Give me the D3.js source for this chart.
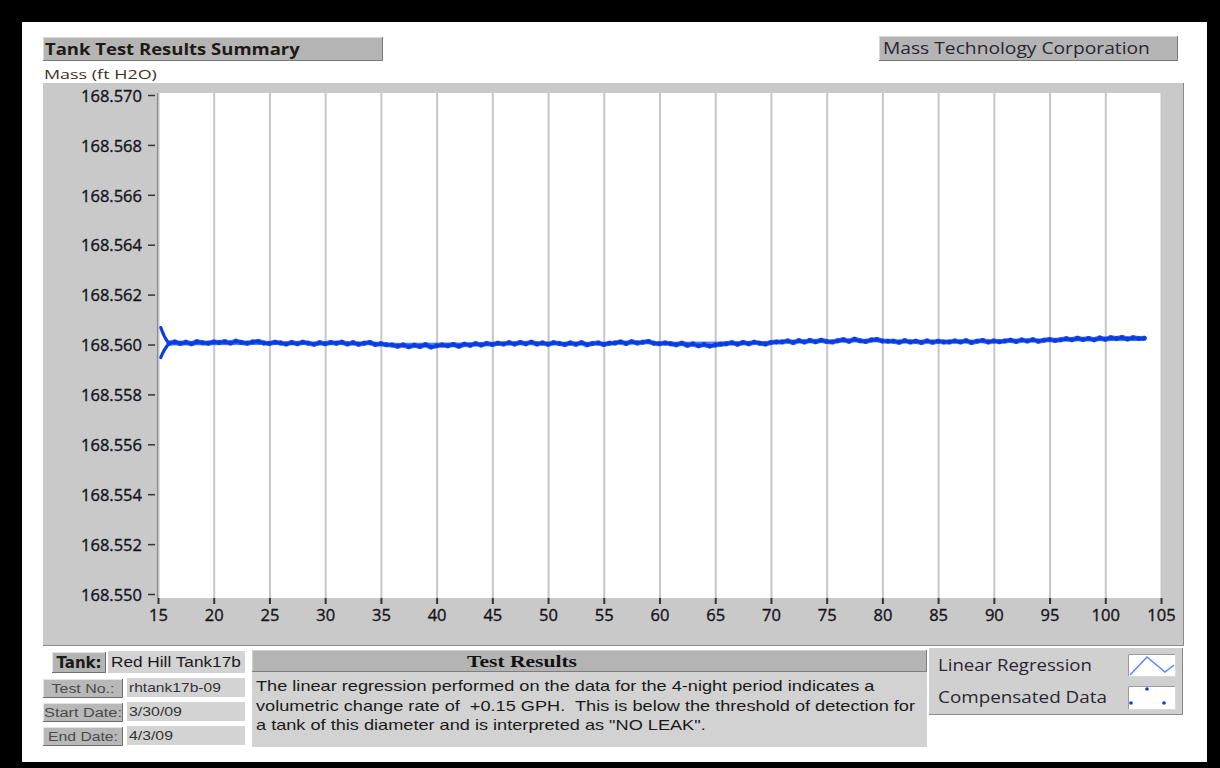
<!DOCTYPE html>
<html><head><meta charset="utf-8">
<script src="https://cdn.jsdelivr.net/npm/d3@7"></script>
<style>
html,body{margin:0;padding:0;background:#000;}
svg{display:block;}
text{white-space:pre;}
</style></head><body>
<svg id="c" width="1220" height="768"></svg>
<script>
// ---------- data ----------
const xTicks = [15,20,25,30,35,40,45,50,55,60,65,70,75,80,85,90,95,100,105];
const yTicks = [168.550,168.552,168.554,168.556,168.558,168.560,168.562,168.564,168.566,168.568,168.570];

const sampleHours = [
16,16.5,17,17.5,18,18.5,19,19.5,20,20.5,
21,21.5,22,22.5,23,23.5,24,24.5,25,25.5,
26,26.5,27,27.5,28,28.5,29,29.5,30,30.5,
31,31.5,32,32.5,33,33.5,34,34.5,35,35.5,
36,36.5,37,37.5,38,38.5,39,39.5,40,40.5,
41,41.5,42,42.5,43,43.5,44,44.5,45,45.5,
46,46.5,47,47.5,48,48.5,49,49.5,50,50.5,
51,51.5,52,52.5,53,53.5,54,54.5,55,55.5,
56,56.5,57,57.5,58,58.5,59,59.5,60,60.5,
61,61.5,62,62.5,63,63.5,64,64.5,65,65.5,
66,66.5,67,67.5,68,68.5,69,69.5,70,70.5,
71,71.5,72,72.5,73,73.5,74,74.5,75,75.5,
76,76.5,77,77.5,78,78.5,79,79.5,80,80.5,
81,81.5,82,82.5,83,83.5,84,84.5,85,85.5,
86,86.5,87,87.5,88,88.5,89,89.5,90,90.5,
91,91.5,92,92.5,93,93.5,94,94.5,95,95.5,
96,96.5,97,97.5,98,98.5,99,99.5,100,100.5,
101,101.5,102,102.5,103,103.5];

const massValues = [
168.56005,168.56010,168.56004,168.56009,168.56003,168.56011,168.56007,168.56005,168.56010,168.56008,
168.56011,168.56006,168.56013,168.56008,168.56005,168.56010,168.56012,168.56006,168.56004,168.56009,
168.56006,168.56002,168.56008,168.56003,168.56009,168.56005,168.56001,168.56007,168.56003,168.56008,
168.56005,168.56009,168.56002,168.56007,168.56001,168.56005,168.56008,168.56000,168.56003,168.55999,
168.55998,168.55993,168.55998,168.55991,168.55997,168.55992,168.55999,168.55990,168.55995,168.55998,
168.55995,168.56000,168.55993,168.56001,168.55997,168.56003,168.55998,168.56004,168.56000,168.56005,
168.56002,168.56007,168.56002,168.56008,168.56003,168.56009,168.56002,168.56006,168.56001,168.56007,
168.56004,168.56000,168.56006,168.56001,168.56007,168.55999,168.56004,168.56006,168.56000,168.56005,
168.56006,168.56010,168.56004,168.56011,168.56006,168.56009,168.56012,168.56005,168.56003,168.56006,
168.56003,168.55999,168.56005,168.55997,168.56002,168.55995,168.56000,168.55994,168.55998,168.56001,
168.56003,168.56007,168.56001,168.56008,168.56003,168.56009,168.56005,168.56002,168.56008,168.56010,
168.56010,168.56014,168.56008,168.56015,168.56010,168.56016,168.56011,168.56017,168.56012,168.56010,
168.56015,168.56019,168.56013,168.56021,168.56015,168.56012,168.56018,168.56020,168.56014,168.56013,
168.56013,168.56009,168.56015,168.56010,168.56013,168.56008,168.56014,168.56009,168.56013,168.56010,
168.56010,168.56014,168.56010,168.56015,168.56008,168.56013,168.56016,168.56010,168.56014,168.56011,
168.56014,168.56017,168.56012,168.56018,168.56014,168.56019,168.56013,168.56017,168.56020,168.56016,
168.56019,168.56023,168.56019,168.56025,168.56020,168.56024,168.56019,168.56026,168.56021,168.56027,
168.56024,168.56028,168.56022,168.56027,168.56024,168.56025];

// start-up transient (two converging branches)
const startupHours = [15.25,15.4,15.55,15.7,15.85,16.0];
const startupUpper = [168.56068,168.56050,168.56034,168.56022,168.56012,168.56005];
const startupLower = [168.55948,168.55963,168.55976,168.55987,168.55996,168.56005];

const titleText = "Tank Test Results Summary";
const companyText = "Mass Technology Corporation";
const yAxisTitle = "Mass (ft H2O)";
const tankLabel = "Tank:";
const tankName = "Red Hill Tank17b";
const infoLabels = ["Test No.:","Start Date:","End Date:"];
const infoValues = ["rhtank17b-09","3/30/09","4/3/09"];
const resultsTitle = "Test Results";
const resultLines = [
 "The linear regression performed on the data for the 4-night period indicates a",
 "volumetric change rate of  +0.15 GPH.  This is below the threshold of detection for",
 "a tank of this diameter and is interpreted as \"NO LEAK\"."
];
const legendLabels = ["Linear Regression","Compensated Data"];

// ---------- drawing ----------
const svg = d3.select("#c");
const SANS = "'Open Sans', 'Noto Sans', sans-serif";
const ARIAL = "'Liberation Sans', Arial, sans-serif";
const DOT = "#0a3de0";

svg.append("rect").attr("width",1220).attr("height",768).attr("fill","#000");
svg.append("rect").attr("x",22).attr("y",22).attr("width",1185).attr("height",740).attr("fill","#fff");

function box(x,y,w,h,fill,dark,light){
  const g = svg.append("g");
  g.append("rect").attr("x",x).attr("y",y).attr("width",w).attr("height",h).attr("fill",fill);
  if(light) g.append("path").attr("d",`M${x+0.5},${y+h} V${y+0.5} H${x+w}`).attr("fill","none").attr("stroke",light);
  if(dark) g.append("path").attr("d",`M${x+w-0.5},${y} V${y+h-0.5} H${x}`).attr("fill","none").attr("stroke",dark);
  return g;
}
// text stretched horizontally to the width it has in the reference screenshot
function label(x,y,str,opt,width,sxFixed){
  const t = svg.append("text").attr("x",0).attr("y",0).text(str)
    .attr("font-family",opt.family).attr("font-size",opt.size)
    .attr("font-weight",opt.weight||"normal").attr("fill",opt.fill||"#1a1a1a")
    .attr("text-anchor",opt.anchor||"start");
  let sx = sxFixed || 1;
  if(width){ sx = width / t.node().getComputedTextLength(); }
  t.attr("transform",`translate(${x},${y}) scale(${sx},1)`);
  return sx;
}

// header boxes
box(43,37,340,24,"#b4b4b4","#7a7a7a","#d8d8d8");
label(45,55,titleText,{family:SANS,size:16.5,weight:"bold",fill:"#1e1a14"},255);
box(879,36,299,25,"#b4b4b4","#7a7a7a","#d8d8d8");
label(883,54,companyText,{family:SANS,size:16.5,fill:"#2a2630"},267);
label(44,79,yAxisTitle,{family:SANS,size:13.5,fill:"#3a3028"},113);

// chart panel
box(43,83,1141,563,"#c9c9c9","#8a8a8a",null);
const plot = {l:158, t:93, r:1162, b:598};
svg.append("rect").attr("x",plot.l).attr("y",plot.t).attr("width",plot.r-plot.l).attr("height",plot.b-plot.t).attr("fill","#fff");

const x = d3.scaleLinear().domain([15,105]).range([158,1161]);
const y = d3.scaleLinear().domain([168.55,168.57]).range([594,95]);

// vertical grid
const grid = svg.append("g").attr("transform",`translate(0,${plot.b})`)
  .call(d3.axisBottom(x).tickValues(xTicks).tickSize(-(plot.b-plot.t)).tickFormat(""));
grid.select(".domain").remove();
grid.selectAll("line").attr("stroke","#c6c6c6").attr("stroke-width",2);

// left axis line
svg.append("line").attr("x1",157.5).attr("x2",157.5).attr("y1",plot.t).attr("y2",plot.b)
  .attr("stroke","#8e8e8e").attr("stroke-width",1.2);

// x axis
const xa = svg.append("g").attr("transform",`translate(0,${plot.b})`)
  .call(d3.axisBottom(x).tickValues(xTicks).tickSize(6).tickPadding(5).tickFormat(d3.format("d")));
xa.select(".domain").remove();
xa.selectAll("line").attr("stroke","#333").attr("stroke-width",2);
xa.selectAll("text").attr("font-family",SANS).attr("font-size",16.5).attr("fill","#141420")
  .attr("stroke","#141420").attr("stroke-width",0.35);

// y axis
const ya = svg.append("g").attr("transform","translate(157,0)")
  .call(d3.axisLeft(y).tickValues(yTicks).tickSize(10).tickPadding(5).tickFormat(d3.format(".3f")));
ya.select(".domain").remove();
ya.selectAll("line").attr("x1",-2).attr("x2",-9).attr("stroke","#333").attr("stroke-width",1.5);
ya.selectAll("text").attr("font-family",SANS).attr("font-size",16.5).attr("fill","#141420").attr("dy","0.38em")
  .attr("stroke","#141420").attr("stroke-width",0.35);

// data
const pts = sampleHours.map((h,i)=>[h,massValues[i]]);
// linear regression computed from the compensated data
const mx = d3.mean(sampleHours), my = d3.mean(massValues);
const slope = d3.sum(pts,p=>(p[0]-mx)*(p[1]-my))/d3.sum(pts,p=>(p[0]-mx)*(p[0]-mx));
const reg = [sampleHours[0], sampleHours[sampleHours.length-1]].map(h=>[h, my+slope*(h-mx)]);

const line = d3.line().x(d=>x(d[0])).y(d=>y(d[1]));
svg.append("clipPath").attr("id","pc").append("rect")
  .attr("x",plot.l).attr("y",plot.t).attr("width",plot.r-plot.l).attr("height",plot.b-plot.t);
const dg = svg.append("g").attr("clip-path","url(#pc)");

dg.append("path").datum(reg).attr("d",line).attr("fill","none").attr("stroke","#5a86f0").attr("stroke-width",1.5);

const up = startupHours.map((h,i)=>[h,startupUpper[i]]);
const lo = startupHours.map((h,i)=>[h,startupLower[i]]);
[up,lo].forEach(s=>{
  dg.append("path").datum(s).attr("d",d3.line().curve(d3.curveBasis).x(d=>x(d[0])).y(d=>y(d[1])))
    .attr("fill","none").attr("stroke",DOT).attr("stroke-width",3.2).attr("stroke-linecap","round");
});
dg.append("path").datum(pts).attr("d",line).attr("fill","none").attr("stroke","#2a5cf0")
  .attr("stroke-width",5.2).attr("stroke-linejoin","round").attr("stroke-linecap","round").attr("opacity",0.8);
dg.append("path").datum(pts).attr("d",line).attr("fill","none").attr("stroke",DOT)
  .attr("stroke-width",3.2).attr("stroke-linejoin","round").attr("stroke-linecap","round");
dg.selectAll("circle.pt").data(pts).join("circle").attr("class","pt")
  .attr("cx",d=>x(d[0])).attr("cy",d=>y(d[1])).attr("r",2.4).attr("fill",DOT);

// ---------- bottom panel ----------
box(52,652,54,21,"#b4b4b4","#6e6e6e","#e4e4e4");
label(79,668,tankLabel,{family:"'DejaVu Sans', sans-serif",size:15,weight:"bold",anchor:"middle"});
box(108,651,137,22,"#d3d3d3",null,null);
label(111,667,tankName,{family:ARIAL,size:14.5},130);

const rowY = [679,703,727];
const infoLabelW = [63,78,70];
const infoValueW = [92,53,44];
infoLabels.forEach((lab,i)=>{
  box(43,rowY[i],80,19,"#b8b8b8","#6e6e6e","#e4e4e4");
  label(83,rowY[i]+14,lab,{family:ARIAL,size:12.5,fill:"#4a4a4a",anchor:"middle"},infoLabelW[i]);
  box(127,rowY[i]-1,118,19,"#d3d3d3",null,null);
  label(129,rowY[i]+13,infoValues[i],{family:ARIAL,size:12.5,fill:"#333"},infoValueW[i]);
});

// test results panel
svg.append("rect").attr("x",252).attr("y",650).attr("width",675).attr("height",97).attr("fill","#d2d2d2");
box(252,650,675,22,"#b4b4b4","#7d7d7d","#cfcfcf");
label(522,667,resultsTitle,{family:"'Liberation Serif', serif",size:17.5,weight:"bold",fill:"#111",anchor:"middle"},110);
let psx = null;
resultLines.forEach((t,i)=>{
  const s = label(256,691+i*19.5,t,{family:ARIAL,size:14},i===0?619:null,psx);
  if(i===0) psx = s;
});

// legend panel
box(929,648,254,67,"#d0d0d0","#8a8a8a",null);
const legendW = [154,169];
legendLabels.forEach((t,i)=>{
  label(938,671+i*32,t,{family:SANS,size:16,fill:"#2a2630"},legendW[i]);
});
box(1128,654,48,23,"#fff","#d8d8d8","#9a9a9a");
box(1128,686,48,24,"#fff","#d8d8d8","#9a9a9a");
svg.append("path").attr("d","M1130,675 L1147,657 L1165,672 L1174,665").attr("fill","none")
  .attr("stroke","#5a86f0").attr("stroke-width",1.5);
[[1131,703],[1147,689],[1164,703]].forEach(p=>{
  svg.append("circle").attr("cx",p[0]).attr("cy",p[1]).attr("r",1.8).attr("fill",DOT);
});
</script>
</body></html>
